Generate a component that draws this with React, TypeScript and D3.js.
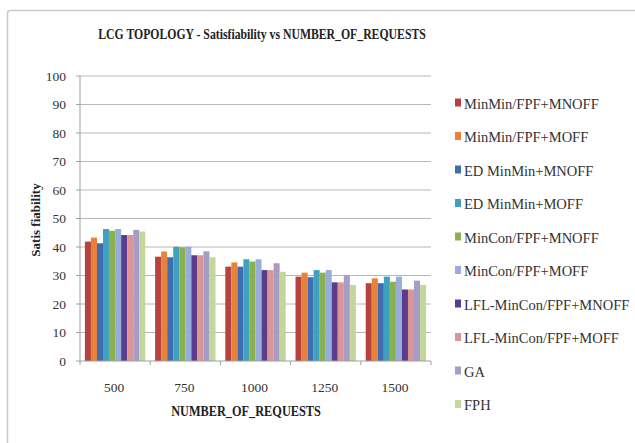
import React from "react";
import * as d3 from "d3";

const categories = ["500", "750", "1000", "1250", "1500"];
const seriesNames = [
  "MinMin/FPF+MNOFF",
  "MinMin/FPF+MOFF",
  "ED MinMin+MNOFF",
  "ED MinMin+MOFF",
  "MinCon/FPF+MNOFF",
  "MinCon/FPF+MOFF",
  "LFL-MinCon/FPF+MNOFF",
  "LFL-MinCon/FPF+MOFF",
  "GA",
  "FPH",
];
const colors = [
  "#B6433F",
  "#E8823A",
  "#3E6DB0",
  "#3FA0C0",
  "#8AB04F",
  "#98AEDA",
  "#5B3C8C",
  "#D99694",
  "#A69CC6",
  "#C3D69B",
];
// values[series][category]
const values = [
  [41.9, 36.6, 33.1, 29.6, 27.3],
  [43.3, 38.4, 34.6, 31.0, 29.0],
  [41.3, 36.4, 33.1, 29.4, 27.3],
  [46.3, 40.1, 35.7, 31.9, 29.6],
  [45.7, 39.9, 34.9, 31.0, 27.8],
  [46.3, 40.1, 35.7, 31.9, 29.6],
  [44.2, 37.1, 31.9, 27.6, 25.1],
  [44.2, 37.1, 31.9, 27.6, 25.1],
  [46.0, 38.5, 34.3, 30.2, 28.2],
  [45.4, 36.4, 31.3, 26.7, 26.7],
];
const yTicks = [0, 10, 20, 30, 40, 50, 60, 70, 80, 90, 100];

const W = 635;
const H = 443;
const left = 80;
const right = 431;
const top = 76;
const bottom = 361;

export default function App() {
  const x0 = d3
    .scaleBand<string>()
    .domain(categories)
    .range([left, right])
    .paddingInner(0.14)
    .paddingOuter(0.07);
  const x1 = d3
    .scaleBand<number>()
    .domain(d3.range(seriesNames.length))
    .range([0, x0.bandwidth()]);
  const y = d3.scaleLinear().domain([0, 100]).range([bottom, top]);
  const step = (right - left) / categories.length;
  const serif = "'Liberation Serif', 'Times New Roman', serif";

  return (
    <svg
      width={W}
      height={H}
      style={{ position: "fixed", left: 0, top: 0, background: "#fff" }}
      fontFamily={serif}
    >
      <rect x={0} y={0} width={W} height={H} fill="#fff" />
      <rect x={7.5} y={10.5} width={W} height={H} fill="#fff" stroke="#c8c8c8" strokeWidth={1.5} rx={3} />
      {/* title */}
      <g transform={`translate(262,39) scale(0.81,1)`}>
        <text textAnchor="middle" fontSize={14.5} fontWeight="bold" fill="#222">
          LCG TOPOLOGY  - Satisfiability vs NUMBER_OF_REQUESTS
        </text>
      </g>
      {/* gridlines */}
      {yTicks.map((t) => (
        <g key={t}>
          {t > 0 && (
            <line x1={left} x2={right} y1={y(t)} y2={y(t)} stroke="#b8b8b8" strokeWidth={1} />
          )}
          <line x1={left - 4} x2={left} y1={y(t)} y2={y(t)} stroke="#a0a0a0" />
          <text
            x={left - 14}
            y={y(t) + 4.5}
            textAnchor="end"
            fontSize={13.5}
            fill="#333"
          >
            {t}
          </text>
        </g>
      ))}
      {/* bars */}
      {categories.map((c, ci) => (
        <g key={c} transform={`translate(${x0(c)},0)`}>
          {seriesNames.map((s, si) => (
            <rect
              key={s}
              x={x1(si)}
              y={y(values[si][ci])}
              width={x1.bandwidth()}
              height={y(0) - y(values[si][ci])}
              fill={colors[si]}
            />
          ))}
        </g>
      ))}
      {/* axes */}
      <line x1={left} x2={left} y1={top} y2={bottom} stroke="#a0a0a0" />
      <line x1={left} x2={right} y1={bottom} y2={bottom} stroke="#a0a0a0" />
      {d3.range(categories.length + 1).map((i) => (
        <line
          key={i}
          x1={left + i * step}
          x2={left + i * step}
          y1={bottom}
          y2={bottom + 4}
          stroke="#a0a0a0"
        />
      ))}
      {categories.map((c) => (
        <text
          key={c}
          x={(x0(c) as number) + x0.bandwidth() / 2 - 1}
          y={392}
          textAnchor="middle"
          fontSize={13.5}
          fill="#333"
        >
          {c}
        </text>
      ))}
      {/* axis titles */}
      <g transform={`translate(246,416) scale(0.88,1)`}>
        <text textAnchor="middle" fontSize={14} fontWeight="bold" fill="#222">
          NUMBER_OF_REQUESTS
        </text>
      </g>
      <g transform={`translate(40,220) rotate(-90)`}>
        <text textAnchor="middle" fontSize={13} fontWeight="bold" fill="#222">
          Satis fiability
        </text>
      </g>
      {/* legend */}
      {seriesNames.map((s, i) => {
        const ly = 103 + i * 33.5;
        return (
          <g key={s} transform={`translate(455,${ly})`}>
            <rect x={0} y={-4.5} width={6} height={8} fill={colors[i]} />
            <text x={9} y={5.5} fontSize={14.5} fill="#333">
              {s}
            </text>
          </g>
        );
      })}
    </svg>
  );
}
